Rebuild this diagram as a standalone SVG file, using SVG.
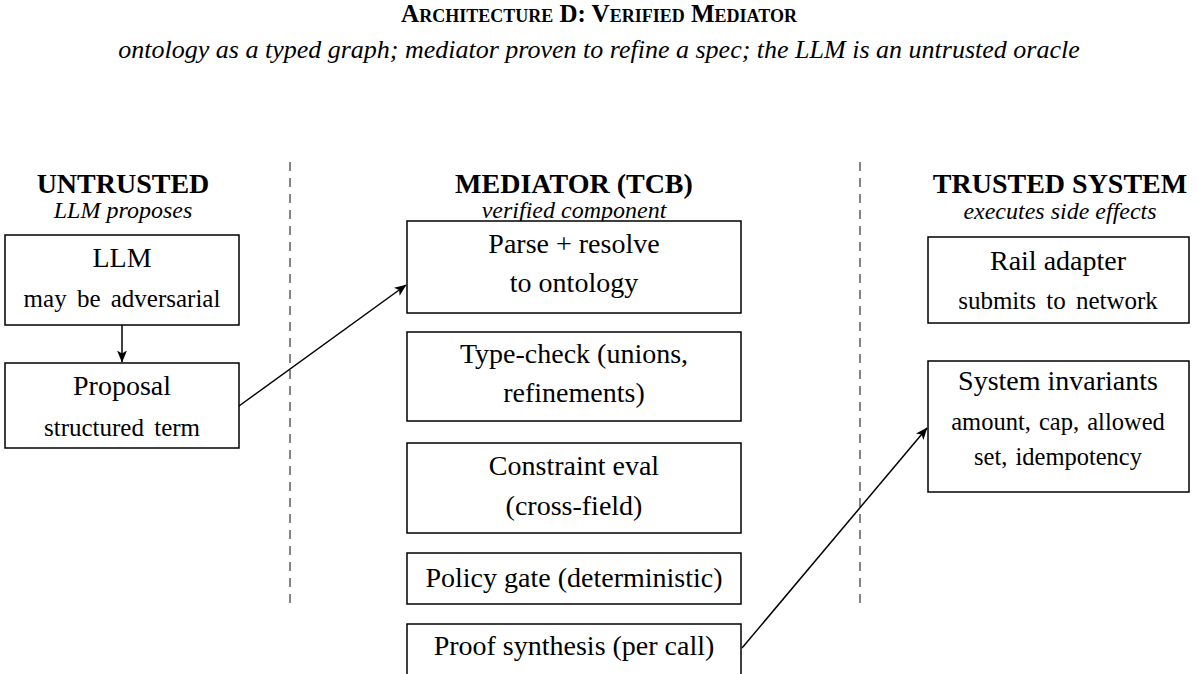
<svg xmlns="http://www.w3.org/2000/svg" width="1198" height="674" viewBox="0 0 1198 674">
<defs>
<marker id="arr" viewBox="0 0 12 10" refX="11.5" refY="5" markerWidth="12" markerHeight="10" markerUnits="userSpaceOnUse" orient="auto">
<path d="M0,0 L12,5 L0,10 L3,5 Z" fill="#000"/>
</marker>
</defs>
<style>
text{font-family:"Liberation Serif","Times New Roman",serif;fill:#000}
.title{font-size:25px;font-weight:bold;font-variant:small-caps;text-anchor:middle}
.sub{font-size:26px;font-style:italic;text-anchor:middle}
.hdr{font-size:28px;font-weight:bold;text-anchor:middle}
.hsub{font-size:24px;font-style:italic;text-anchor:middle}
.lbl{font-size:28px;text-anchor:middle}
.sm{font-size:24.5px;text-anchor:middle;word-spacing:2px}
.smw{font-size:25px;text-anchor:middle;word-spacing:4px}
.box{fill:#fff;stroke:#000;stroke-width:1.5}
.div{stroke:#444;stroke-width:1.3;stroke-dasharray:9 7;fill:none}
.edge{stroke:#000;stroke-width:1.5;fill:none;marker-end:url(#arr)}
</style>
<text class="title" x="599" y="22">Architecture D: Verified Mediator</text>
<text class="sub" x="599" y="58">ontology as a typed graph; mediator proven to refine a spec; the LLM is an untrusted oracle</text>

<g id="dividers">
<line class="div" x1="290" y1="162" x2="290" y2="606"/>
<line class="div" x1="860" y1="162" x2="860" y2="606"/>
</g>

<g id="headers">
<text class="hdr" x="123" y="193">UNTRUSTED</text>
<text class="hsub" x="123" y="218">LLM proposes</text>
<text class="hdr" x="574" y="193">MEDIATOR (TCB)</text>
<text class="hsub" x="574" y="218">verified component</text>
<text class="hdr" x="1060" y="193">TRUSTED SYSTEM</text>
<text class="hsub" x="1060" y="219">executes side effects</text>
</g>

<g id="llm">
<rect class="box" x="5" y="235" width="234" height="90"/>
<text class="lbl" x="122" y="267">LLM</text>
<text class="smw" x="122" y="307">may be adversarial</text>
</g>
<g id="proposal">
<rect class="box" x="5" y="363" width="234" height="85"/>
<text class="lbl" x="122" y="395">Proposal</text>
<text class="smw" x="122" y="436">structured term</text>
</g>

<g id="parse">
<rect class="box" x="407" y="221" width="334" height="92"/>
<text class="lbl" x="574" y="253">Parse + resolve</text>
<text class="lbl" x="574" y="292">to ontology</text>
</g>
<g id="typecheck">
<rect class="box" x="407" y="332" width="334" height="89"/>
<text class="lbl" x="574" y="363">Type-check (unions,</text>
<text class="lbl" x="574" y="402">refinements)</text>
</g>
<g id="constraint">
<rect class="box" x="407" y="443" width="334" height="90"/>
<text class="lbl" x="574" y="475">Constraint eval</text>
<text class="lbl" x="574" y="515">(cross-field)</text>
</g>
<g id="policy">
<rect class="box" x="407" y="553" width="334" height="51"/>
<text class="lbl" x="574" y="587">Policy gate (deterministic)</text>
</g>
<g id="proof">
<rect class="box" x="407" y="624" width="334" height="70"/>
<text class="lbl" x="574" y="655">Proof synthesis (per call)</text>
</g>

<g id="rail">
<rect class="box" x="928" y="237" width="261" height="86"/>
<text class="lbl" x="1058" y="270">Rail adapter</text>
<text class="smw" x="1058" y="309">submits to network</text>
</g>
<g id="invariants">
<rect class="box" x="928" y="361" width="261" height="131"/>
<text class="lbl" x="1058" y="390">System invariants</text>
<text class="sm" x="1058" y="430">amount, cap, allowed</text>
<text class="sm" x="1058" y="465">set, idempotency</text>
</g>

<g id="connectors">
<line class="edge" x1="122" y1="325" x2="122" y2="362"/>
<line class="edge" x1="239" y1="406" x2="406" y2="285"/>
<line class="edge" x1="742" y1="648" x2="927" y2="428"/>
</g>
</svg>
